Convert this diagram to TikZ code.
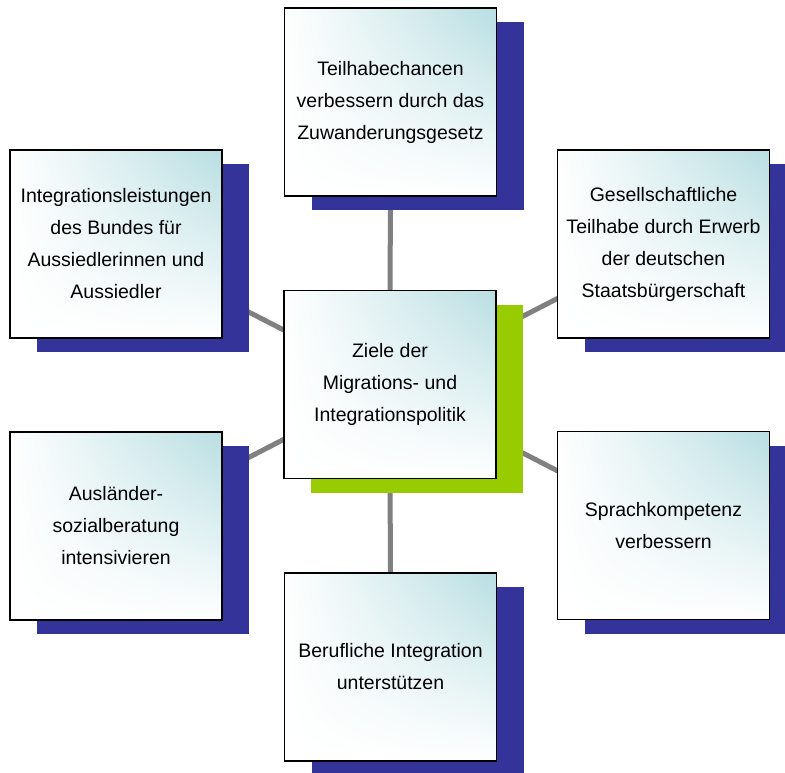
\documentclass[tikz,border=0pt]{standalone}
\usepackage{fontspec}
\setmainfont{Liberation Sans}
\usetikzlibrary{shadows,shadings,backgrounds}
\definecolor{shadowblue}{RGB}{51,51,153}
\definecolor{shadowgreen}{RGB}{153,204,0}
\definecolor{boxteal}{RGB}{184,222,226}
\definecolor{linkgray}{RGB}{128,128,128}
\tikzset{
  goal/.style={draw=black, line width=1.5pt, minimum width=212pt, minimum height=188pt,
    inner sep=0pt, align=center, font=\fontsize{19.5}{32}\selectfont,
    upper right=boxteal, upper left=white, lower left=white, lower right=white,
    drop shadow={shadow xshift=27pt, shadow yshift=-14pt, fill=#1, opacity=1}},
  goal/.default=shadowblue,
  link/.style={draw=linkgray, line width=5pt}
}
\begin{document}
\begin{tikzpicture}[x=1pt,y=-1pt]
\useasboundingbox (0,0) rectangle (785,772);
   \node[goal=shadowgreen] at (390,384.5) (ziel) {Ziele der\\Migrations- und\\Integrationspolitik};
   \node[goal] at (390.5,102) (teilhabe) {Teilhabechancen\\verbessern durch das\\Zuwanderungsgesetz};
   \node[goal] at (116,244) (bund) {Integrationsleistungen\\des Bundes für\\Aussiedlerinnen und\\Aussiedler};
   \node[goal] at (663.5,244) (staat) {Gesellschaftliche\\Teilhabe durch Erwerb\\der deutschen\\Staatsbürgerschaft};
   \node[goal] at (116,526) (beratung) {Ausländer-\\sozialberatung\\intensivieren};
   \node[goal] at (663.5,525.5) (sprache) {Sprachkompetenz\\verbessern};
   \node[goal] at (390.5,667) (beruf) {Berufliche Integration\\unterstützen};

 \begin{scope}[on background layer]
   \foreach \n in {teilhabe,bund,staat,beratung,sprache,beruf}
     \draw[link] (ziel.center) -- (\n.center);
 \end{scope}
\end{tikzpicture}
\end{document}
